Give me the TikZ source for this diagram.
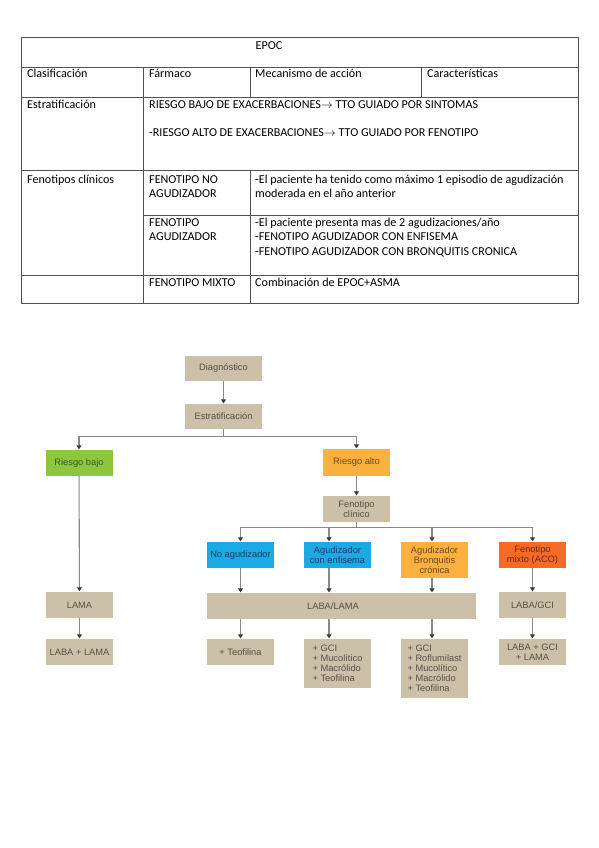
\documentclass[tikz,border=0pt]{standalone}
\usepackage{fontspec}
\setmainfont{Carlito}
\newfontfamily\flowf{Liberation Sans}
\usetikzlibrary{arrows.meta,calc}
\definecolor{beigec}{HTML}{CDC0A8}
\definecolor{greenc}{HTML}{8DC63F}
\definecolor{orangec}{HTML}{FBB040}
\definecolor{bluec}{HTML}{1BAAE2}
\definecolor{redc}{HTML}{F66A28}
\definecolor{txgray}{HTML}{55504A}
\definecolor{txgreen}{HTML}{3D5A1E}
\definecolor{txblue}{HTML}{163F6A}
\definecolor{txorange}{HTML}{6B4A1A}
\definecolor{txred}{HTML}{6B2A10}
\definecolor{linec}{HTML}{8A8A8A}
\definecolor{tipc}{HTML}{3A3A3A}
\newcommand\flowfont{\flowf\fontsize{9.3}{10}\selectfont}
\newcommand\tabfont{\fontsize{12.1}{14.3}\selectfont}
\tikzset{
  tline/.style={draw=black!68, line width=0.9pt},
  tt/.style={anchor=base west, inner sep=0pt, font=\tabfont, text=black},
  fbox/.style={rectangle, inner sep=0pt, font=\flowfont, align=center,
    minimum width=67pt, minimum height=26pt},
  beige/.style={fill=beigec, text=txgray},
  greenb/.style={fill=greenc, text=txgreen},
  orangeb/.style={fill=orangec, text=txorange},
  blueb/.style={fill=bluec, text=txblue},
  redb/.style={fill=redc, text=txred},
  ftext/.style={inner sep=0pt, font=\flowfont, text=txgray},
  wire/.style={draw=linec, line width=1.1pt},
  conn/.style={wire, -{Triangle[width=5pt,length=4pt,color=tipc]}, shorten >=0.5pt}
}
\begin{document}
\begin{tikzpicture}[x=1pt,y=-1pt]
\useasboundingbox[fill=white] (0,0) rectangle (599,848);

% ---------------- table ----------------
\draw[tline] (21,37) rectangle (578,303);
\draw[tline] (21,67) -- (578,67);
\draw[tline] (21,97) -- (578,97);
\draw[tline] (21,170) -- (578,170);
\draw[tline] (143,215) -- (578,215);
\draw[tline] (21,275) -- (578,275);
\draw[tline] (143,67) -- (143,303);
\draw[tline] (250,67) -- (250,97);
\draw[tline] (250,170) -- (250,303);
\draw[tline] (421,67) -- (421,97);

\node[tt, anchor=base] (t0) at (269,49.5) {EPOC};
\node[tt] (t1) at (27,77.5) {Clasificación};
\node[tt] (t2) at (149,77.5) {Fármaco};
\node[tt] (t3) at (255,77.5) {Mecanismo de acción};
\node[tt] (t4) at (427,77.5) {Características};
\node[tt] (t5) at (27,108.5) {Estratificación};
\node[tt] (t6) at (149,108.5) {RIESGO BAJO DE EXACERBACIONES$\rightarrow$ TTO GUIADO POR SINTOMAS};
\node[tt] (t7) at (149,136) {-RIESGO ALTO DE EXACERBACIONES$\rightarrow$ TTO GUIADO POR FENOTIPO};
\node[tt] (t8) at (27,183) {Fenotipos clínicos};
\node[tt] (t9) at (149,183) {FENOTIPO NO};
\node[tt] (t10) at (149,197.5) {AGUDIZADOR};
\node[tt] (t11) at (255,183) {-El paciente ha tenido como máximo 1 episodio de agudización};
\node[tt] (t12) at (255,197.5) {moderada en el año anterior};
\node[tt] (t13) at (149,226) {FENOTIPO};
\node[tt] (t14) at (149,240.5) {AGUDIZADOR};
\node[tt] (t15) at (255,226) {-El paciente presenta mas de 2 agudizaciones/año};
\node[tt] (t16) at (255,240.5) {-FENOTIPO AGUDIZADOR CON ENFISEMA};
\node[tt] (t17) at (255,255) {-FENOTIPO AGUDIZADOR CON BRONQUITIS CRONICA};
\node[tt] (t18) at (149,286) {FENOTIPO MIXTO};
\node[tt] (t19) at (255,286) {Combinación de EPOC+ASMA};

% ---------------- flowchart ----------------
\node[fbox,beige,minimum width=77pt,minimum height=25pt] (diag) at (223.5,368.5) {Diagnóstico};
\node[fbox,beige,minimum width=77pt,minimum height=25pt] (estr) at (223.5,416.5) {Estratificación};
\node[fbox,greenb] (rbajo) at (79,463) {Riesgo bajo};
\node[fbox,orangeb,minimum height=27pt] (ralto) at (356.5,462.5) {Riesgo alto};
\node[fbox,beige] (fenc) at (356.5,509) {Fenotipo\\clínico};
\node[fbox,blueb] (nag) at (240.5,555) {No agudizador};
\node[fbox,blueb] (enf) at (337.5,555) {Agudizador\\con enfisema};
\node[fbox,orangeb,minimum height=36pt] (bron) at (434.5,560) {Agudizador\\Bronquitis\\crónica};
\node[fbox,redb] (mix) at (532.5,555) {Fenotipo\\mixto (ACO)};
\node[fbox,beige] (lama) at (79.5,605) {LAMA};
\node[fbox,beige] (ll) at (79.5,652) {LABA + LAMA};
\node[fbox,beige,minimum width=269pt] (labalama) at (341.5,606) {};
\node[ftext] (labalamat) at (333,606) {LABA/LAMA};
\node[fbox,beige] (labagci) at (532.5,605) {LABA/GCI};
\node[fbox,beige] (teo) at (240.5,652) {+ Teofilina};
\node[fbox,beige,minimum height=49pt,align=left] (gci) at (337.5,663.5) {+ GCI\\+ Mucolítico\\+ Macrólido\\+ Teofilina};
\node[fbox,beige,minimum height=59pt,align=left] (rof) at (434.5,668.5) {+ GCI\\+ Roflumilast\\+ Mucolítico\\+ Macrólido\\+ Teofilina};
\node[fbox,beige] (lgl) at (532.5,652) {LABA + GCI\\+ LAMA};

\coordinate (xe) at (329,0);
\coordinate (xb) at (432,0);
\coordinate (j1) at ($(estr.south)+(0,7)$);
\coordinate (j2) at ($(fenc.south)+(0,5)$);

\draw[conn] (diag) -- (estr);
\draw[wire] (estr.south) -- (j1);
\draw[conn] (j1) -| (rbajo.north);
\draw[conn] (j1) -| (ralto.north);
\draw[conn] (rbajo) -- (lama);
\draw[conn] (lama) -- (ll);
\draw[conn] (ralto) -- (fenc);
\draw[wire] (fenc.south) -- (j2);
\draw[conn] (j2) -| (nag.north);
\draw[conn] (j2) -| (enf.north -| xe);
\draw[conn] (j2) -| (bron.north -| xb);
\draw[conn] (j2) -| (mix.north);
\draw[conn] (nag) -- (labalama.north -| nag);
\draw[conn] (enf.south -| xe) -- (labalama.north -| xe);
\draw[conn] (bron.south -| xb) -- (labalama.north -| xb);
\draw[conn] (mix) -- (labagci);
\draw[conn] (labalama.south -| teo) -- (teo);
\draw[conn] (labalama.south -| xe) -- (gci.north -| xe);
\draw[conn] (labalama.south -| xb) -- (rof.north -| xb);
\draw[conn] (labagci) -- (lgl);
\end{tikzpicture}
\end{document}
